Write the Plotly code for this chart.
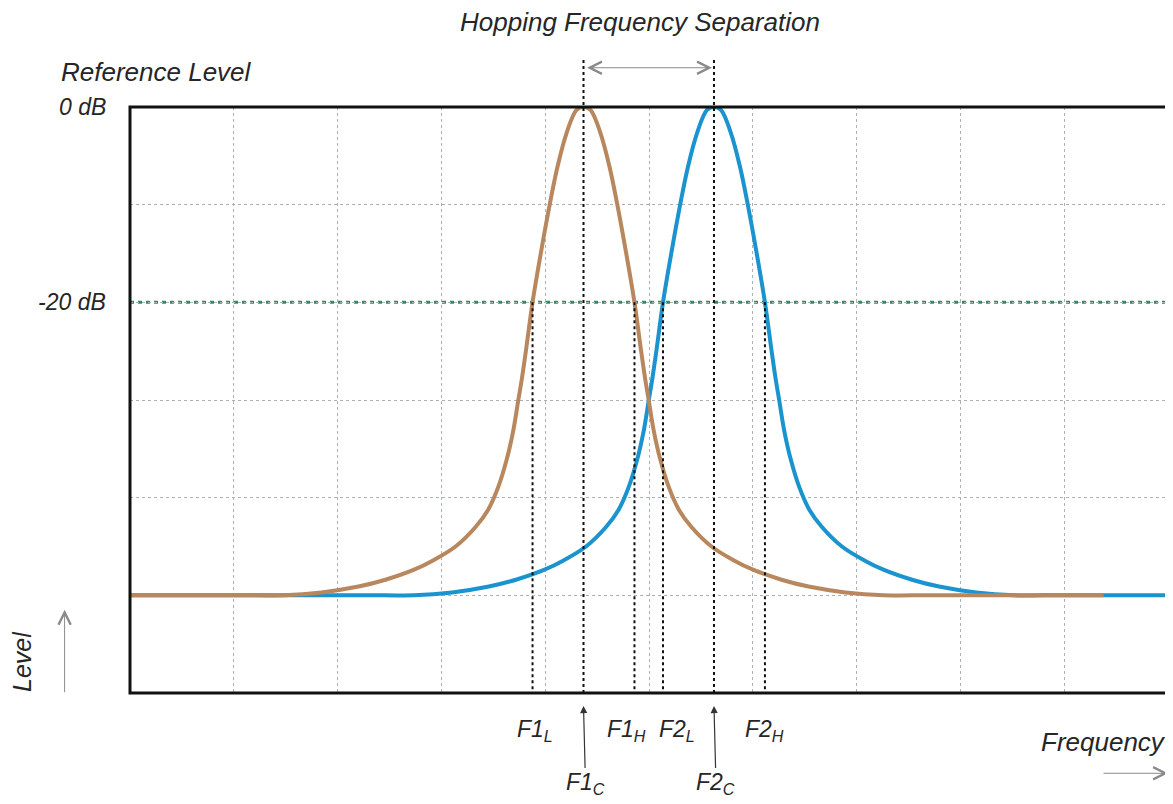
import plotly.graph_objects as go

# --- data (x in grid divisions 0..10, level in dB) ---
f1_x = [0.0, 1.190, 1.479, 1.845, 2.201, 2.461, 2.731, 2.924, 3.136, 3.329, 3.452, 3.548, 3.629, 3.693,
        3.741, 3.774, 3.815, 3.878, 3.964, 4.047, 4.119, 4.205, 4.302, 4.369,
        4.436, 4.533, 4.619, 4.691, 4.774, 4.860, 4.923, 4.964, 4.997, 5.045, 5.109, 5.190, 5.286,
        5.409, 5.602, 5.814, 6.007, 6.277, 6.537, 6.893, 7.259, 7.548, 9.38]
f1_db = [-50, -50, -50, -49.7, -49.1, -48.4, -47.4, -46.4, -45.0, -43.0, -41.2, -38.9, -36.1, -33.1,
         -30.0, -27.9, -24.9, -20.0, -14.6, -9.8, -6.1, -2.7, -0.3, 0,
         -0.3, -2.7, -6.1, -9.8, -14.6, -20.0, -24.9, -27.9, -30.0, -33.1, -36.1, -38.9, -41.2,
         -43.0, -45.0, -46.4, -47.4, -48.4, -49.1, -49.7, -50, -50, -50]

f2_x = [0.0, 2.447, 2.736, 3.102, 3.458, 3.718, 3.988, 4.181, 4.393, 4.586, 4.709, 4.805, 4.886, 4.950,
        4.998, 5.031, 5.072, 5.135, 5.221, 5.304, 5.376, 5.462, 5.559, 5.626,
        5.693, 5.790, 5.876, 5.948, 6.031, 6.117, 6.180, 6.221, 6.254, 6.302, 6.366, 6.447, 6.543,
        6.666, 6.859, 7.071, 7.264, 7.534, 7.794, 8.150, 8.516, 8.805, 10.0]
f2_db = [-50, -50, -50, -49.7, -49.1, -48.4, -47.4, -46.4, -45.0, -43.0, -41.2, -38.9, -36.1, -33.1,
         -30.0, -27.9, -24.9, -20.0, -14.6, -9.8, -6.1, -2.7, -0.3, 0,
         -0.3, -2.7, -6.1, -9.8, -14.6, -20.0, -24.9, -27.9, -30.0, -33.1, -36.1, -38.9, -41.2,
         -43.0, -45.0, -46.4, -47.4, -48.4, -49.1, -49.7, -50, -50, -50]

marker_x = {"F1L": 3.878, "F1C": 4.369, "F1H": 4.860, "F2L": 5.135, "F2C": 5.626, "F2H": 6.117}
level_ticks = [0, -20]
level_labels = ["0 dB", "-20 dB"]

BROWN = "#B8875E"
BLUE = "#1A93CF"
TXT = "#262626"
FONT = "Liberation Sans, Arial, sans-serif"

fig = go.Figure()
fig.add_trace(go.Scatter(x=f2_x, y=f2_db, mode="lines",
                         line=dict(color=BLUE, width=4, shape="spline", smoothing=1.0),
                         hoverinfo="skip", showlegend=False))
fig.add_trace(go.Scatter(x=f1_x, y=f1_db, mode="lines",
                         line=dict(color=BROWN, width=4, shape="spline", smoothing=1.0),
                         hoverinfo="skip", showlegend=False))

shapes = []
# -20 dB reference line (green dotted)
shapes.append(dict(type="line", xref="paper", yref="y", x0=0, x1=1, y0=-20, y1=-20,
                   line=dict(color="#2E8F5E", width=3, dash="4px,4px"), layer="between"))
# centre lines, extending above the frame
for k in ["F1C", "F2C"]:
    shapes.append(dict(type="line", xref="x", yref="paper", x0=marker_x[k], x1=marker_x[k], y0=0, y1=1.083,
                       line=dict(color="#111111", width=2, dash="dot")))
# band-edge lines from the -20 dB level down
for k in ["F1L", "F1H", "F2L", "F2H"]:
    shapes.append(dict(type="line", xref="x", yref="y", x0=marker_x[k], x1=marker_x[k], y0=-20, y1=-60,
                       line=dict(color="#111111", width=2, dash="dot")))
# frame
shapes.append(dict(type="rect", xref="paper", yref="paper", x0=0, x1=1, y0=0, y1=1,
                   line=dict(color="#111111", width=3)))

def it(s):
    return "<i>" + s + "</i>"

ann = []
ann.append(dict(xref="paper", yref="paper", x=0.4913, y=1.145, xanchor="center", yanchor="middle",
                text=it("Hopping Frequency Separation"),
                showarrow=False, font=dict(size=26, color=TXT, family=FONT)))
ann.append(dict(xref="paper", yref="paper", x=-0.068, y=1.06, xanchor="left", yanchor="middle",
                text=it("Reference Level"),
                showarrow=False, font=dict(size=26, color=TXT, family=FONT)))
for v, t in zip(level_ticks, level_labels):
    ann.append(dict(xref="paper", yref="y", x=-0.024, y=v, xanchor="right", yanchor="middle", text=it(t),
                    xshift=3, showarrow=False, font=dict(size=23, color=TXT, family=FONT)))
ann.append(dict(xref="paper", yref="paper", x=-0.104, y=0.053, xanchor="center", yanchor="middle",
                text=it("Level"), textangle=-90,
                showarrow=False, font=dict(size=25, color=TXT, family=FONT)))
ann.append(dict(xref="paper", yref="paper", x=1.0, y=-0.083, xanchor="right", yanchor="middle",
                text=it("Frequency"),
                showarrow=False, font=dict(size=26, color=TXT, family=FONT)))
# level arrow
ann.append(dict(xref="paper", yref="paper", x=-0.063, y=0.142, ax=0, ay=84, text="",
                showarrow=True, arrowhead=5, arrowsize=2.4, arrowwidth=1, arrowcolor="#8a8a8a"))
# frequency arrow
ann.append(dict(xref="paper", yref="paper", x=1.0, y=-0.137, ax=-66, ay=0, text="",
                showarrow=True, arrowhead=5, arrowsize=2.4, arrowwidth=1, arrowcolor="#8a8a8a"))
# hopping separation double arrow
ann.append(dict(xref="x", yref="paper", x=marker_x["F2C"] - 0.02, y=1.067,
                axref="x", ax=marker_x["F1C"] + 0.02, ayref="pixel", ay=0, text="",
                showarrow=True, arrowhead=5, startarrowhead=5, arrowside="end+start",
                arrowsize=2.4, startarrowsize=2.4, arrowwidth=1, arrowcolor="#8a8a8a"))
# band-edge labels
lab = {"F1L": ("F1<sub>L</sub>", 2), "F1H": ("F1<sub>H</sub>", -8), "F2L": ("F2<sub>L</sub>", 14),
       "F2H": ("F2<sub>H</sub>", 0)}
for k, (t, xs) in lab.items():
    ann.append(dict(xref="x", yref="paper", x=marker_x[k], y=-0.064, xshift=xs, xanchor="center",
                    yanchor="middle", text=it(t),
                    showarrow=False, font=dict(size=23, color=TXT, family=FONT)))
# centre labels with arrows
for k, t in [("F1C", "F1<sub>C</sub>"), ("F2C", "F2<sub>C</sub>")]:
    ann.append(dict(xref="x", yref="paper", x=marker_x[k], y=-0.022, ax=2, ay=78, text=it(t),
                    showarrow=True, arrowhead=2, arrowsize=1.2, arrowwidth=1.2, arrowcolor="#333333",
                    standoff=0, font=dict(size=23, color=TXT, family=FONT)))

# the page adds an 8px body margin, so the figure is laid out 8px smaller
fig.update_layout(
    width=1165, height=796,
    margin=dict(l=122, r=5, t=99, b=111, pad=0),
    paper_bgcolor="white", plot_bgcolor="white",
    shapes=shapes, annotations=ann,
    xaxis=dict(range=[0, 10], dtick=1, tick0=0, showticklabels=False, ticks="",
               showgrid=True, gridcolor="#a9b3b3", griddash="dot", gridwidth=1, zeroline=False,
               fixedrange=True),
    yaxis=dict(range=[-60, 0], dtick=10, tick0=0, showticklabels=False, ticks="",
               showgrid=True, gridcolor="#a9b3b3", griddash="dot", gridwidth=1, zeroline=False,
               fixedrange=True),
)

fig.write_html("out.html", config={"displayModeBar": False})
